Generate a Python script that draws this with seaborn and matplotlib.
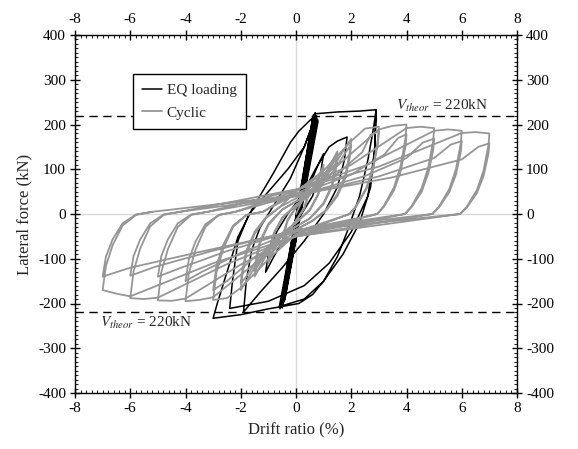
import matplotlib
matplotlib.use("Agg")
import matplotlib.pyplot as plt
import numpy as np
import pandas as pd
import seaborn as sns
from matplotlib.ticker import MultipleLocator

# ---------------- data ----------------
# Cyclic test, small amplitude loops (two cycles each)
cyc_a05_x = [0, 0.3, 0.5, 0.45, 0.3, 0, -0.3, -0.5, -0.45, -0.3, 0, 0.3, 0.5, 0.45, 0.3, 0, -0.3, -0.5, -0.45, -0.3, 0]
cyc_a05_y = [0, 40, 70, 45, 15, -15, -40, -70, -45, -15, 15, 40, 65, 42, 12, -15, -38, -65, -42, -12, 15]

cyc_a1_x = [0.5, 0.8, 1.0, 0.95, 0.8, 0.5, 0, -0.5, -0.8, -1.0, -0.95, -0.8, -0.5, 0,
            0.5, 0.8, 1.0, 0.95, 0.8, 0.5, 0, -0.5, -0.8, -1.0, -0.95, -0.8, -0.5, 0]
cyc_a1_y = [45, 80, 110, 80, 45, 10, -20, -45, -80, -110, -80, -45, -10, 20,
            42, 75, 102, 75, 42, 8, -20, -42, -75, -102, -75, -42, -8, 20]

cyc_a15_x = [0.6, 1.1, 1.5, 1.45, 1.3, 1.0, 0.5, 0, -0.6, -1.1, -1.5, -1.45, -1.3, -1.0, -0.5, 0,
             0.6, 1.1, 1.5, 1.45, 1.3, 1.0, 0.5, 0, -0.6, -1.1, -1.5, -1.45, -1.3, -1.0, -0.5, 0]
cyc_a15_y = [50, 95, 140, 110, 65, 25, -10, -28, -50, -95, -140, -110, -65, -25, 10, 28,
             48, 88, 130, 102, 60, 22, -10, -28, -48, -88, -128, -100, -60, -22, 10, 28]

cyc_a2_x = [0.8, 1.4, 1.8, 2.0, 1.95, 1.8, 1.5, 1.1, 0.6, 0, -0.8, -1.4, -1.8, -2.0, -1.95, -1.8, -1.5, -1.1, -0.6, 0,
            0.8, 1.4, 1.8, 2.0, 1.95, 1.8, 1.5, 1.1, 0.6, 0, -0.8, -1.4, -1.8, -2.0, -1.95, -1.8, -1.5, -1.1, -0.6]
cyc_a2_y = [60, 110, 150, 168, 140, 90, 45, 10, -15, -35, -60, -110, -150, -170, -140, -90, -45, -10, 15, 35,
            55, 100, 138, 155, 128, 82, 40, 8, -15, -35, -58, -102, -140, -155, -128, -82, -40, -8, 15]

# Cyclic test, large amplitude loops (two cycles each)
cyc_a3_x = [0, 1, 2, 2.5, 3, 2.97, 2.79, 2.55, 2.18, 1.94, 0, -1, -2, -2.5, -3, -2.88, -2.64, -2.28, -1.79, -1.19,
            0, 1.5, 2.4, 2.7, 3, 2.97, 2.79, 2.55, 2.18, 1.94, 0, -1.5, -2.5, -3, -2.88, -2.64, -2.28, -1.79, -1.19]
cyc_a3_y = [50, 97, 163, 191, 195, 168, 105, 59, 18, 0, -45, -101, -165, -188, -192, -131, -79, -29, -2, 5,
            45, 90, 138, 177, 185, 159, 100, 56, 17, 0, -40, -97, -150, -170, -116, -70, -26, -2, 5]

cyc_a4_x = [0, 1.5, 3, 3.5, 4, 3.97, 3.79, 3.55, 3.18, 2.94, 0, -1.5, -3, -3.5, -4, -3.88, -3.64, -3.28, -2.79, -2.19,
            0, 2, 3.2, 3.7, 4, 3.97, 3.79, 3.55, 3.18, 2.94, 0, -2, -3.4, -4, -3.88, -3.64, -3.28, -2.79, -2.19]
cyc_a4_y = [52, 108, 189, 197, 200, 172, 108, 60, 18, 0, -47, -111, -186, -192, -195, -133, -80, -29, -2, 5,
            42, 88, 133, 170, 178, 153, 96, 53, 16, 0, -38, -87, -129, -150, -102, -62, -23, -2, 5]

cyc_a5_x = [0, 2, 4, 4.5, 5, 4.97, 4.79, 4.55, 4.18, 3.94, 0, -2, -4, -4.5, -5, -4.88, -4.64, -4.28, -3.79, -3.19,
            0, 2.5, 4, 4.6, 5, 4.97, 4.79, 4.55, 4.18, 3.94, 0, -2.5, -4.2, -5, -4.88, -4.64, -4.28, -3.79, -3.19]
cyc_a5_y = [52, 110, 192, 195, 192, 165, 104, 58, 17, 0, -48, -113, -189, -194, -193, -131, -79, -29, -2, 5,
            40, 85, 125, 160, 168, 144, 91, 50, 15, 0, -36, -83, -121, -140, -95, -57, -21, -1, 5]

cyc_a6_x = [0, 2.5, 5, 5.5, 6, 5.97, 5.79, 5.55, 5.18, 4.94, 0, -2.5, -5, -5.5, -6, -5.88, -5.64, -5.28, -4.79, -4.19,
            0, 3, 5, 5.6, 6, 5.97, 5.79, 5.55, 5.18, 4.94, 0, -3, -5.1, -6, -5.88, -5.64, -5.28, -4.79, -4.19]
cyc_a6_y = [54, 108, 186, 189, 186, 160, 100, 56, 17, 0, -50, -112, -187, -190, -188, -128, -77, -28, -2, 5,
            40, 84, 125, 155, 163, 140, 88, 49, 15, 0, -36, -82, -118, -138, -94, -57, -21, -1, 5]

cyc_a7_x = [0, 3, 6, 6.5, 7, 6.97, 6.79, 6.55, 6.18, 5.94, 0, -3, -6, -6.5, -7, -6.88, -6.64, -6.28, -5.79, -5.19,
            0, 3.5, 6, 6.6, 7, 6.97, 6.79, 6.55, 6.18, 5.94, 0, -3.5, -6, -7, -6.88, -6.64, -6.28, -5.79, -5.19]
cyc_a7_y = [55, 106, 181, 183, 180, 155, 97, 54, 16, 0, -50, -110, -184, -178, -170, -116, -70, -26, -2, 5,
            42, 82, 122, 150, 158, 136, 85, 47, 14, 0, -38, -85, -120, -140, -95, -57, -21, -1, 5]

# Earthquake loading response
eq_x = [0, 0.4, 0.8, 1.0, 0.9, 0.6, 0.2, -0.3, -0.8, -1.1, -1.0, -0.7, -0.3, 0.2, 0.7, 1.2, 1.5, 1.85,
        1.75, 1.5, 1.0, 0.3, -0.5, -1.3, -1.9, -1.8, -1.6, -1.3, -0.8, -0.2, 0.3, 0.6, 0.7,
        -0.52, 0.72, -0.48, 0.68, -0.55, 0.75, -0.45, 0.66, -0.5, 0.7,
        -0.42, 0.78, -0.58, 0.63, -0.4, 0.8, -0.6, 0.7,
        1.5, 2.3, 2.9,
        2.85, 2.7, 2.3, 1.7, 1.0, 0.3, -0.5,
        0.6, 0.1, -0.2, -0.83, -1.55, -2.1, -2.5, -2.85, -3.0,
        -2.0, -1.0, 0.1, 0.6, 1.0, 1.5, 1.85, 2.3, 2.6, 2.8, 2.9,
        2.85, 2.6, 2.0, 1.2, 0.3, -1.0, -2.4, -2.3, -2.1, -1.7, -1.0, -0.3, 0.3, 0.6, 0.7,
        -0.5, -0.3, 0.0]
eq_y = [0, 50, 110, 135, 95, 40, 0, -40, -95, -130, -90, -40, 0, 40, 100, 150, 163, 172,
        120, 60, 0, -60, -120, -175, -219, -150, -80, -30, 20, 80, 150, 200, 222,
        -205, 220, -200, 225, -208, 218, -198, 215, -210, 226,
        -195, 212, -212, 222, -190, 208, -206, 224,
        228, 230, 233,
        150, 60, -20, -90, -150, -190, -205,
        215, 185, 160, 90, 15, -51, -130, -200, -233,
        -225, -212, -200, -180, -150, -95, -40, 40, 120, 190, 232,
        140, 40, -40, -110, -160, -195, -211, -150, -60, 0, 50, 100, 150, 200, 220,
        -205, -120, -60]

# Axis ticks and reference values
x_ticks = [-8, -6, -4, -2, 0, 2, 4, 6, 8]
y_ticks = [-400, -300, -200, -100, 0, 100, 200, 300, 400]
v_theor = 220

cyc_x = (cyc_a05_x + cyc_a1_x + cyc_a15_x + cyc_a2_x + cyc_a3_x +
         cyc_a4_x + cyc_a5_x + cyc_a6_x + cyc_a7_x)
cyc_y = (cyc_a05_y + cyc_a1_y + cyc_a15_y + cyc_a2_y + cyc_a3_y +
         cyc_a4_y + cyc_a5_y + cyc_a6_y + cyc_a7_y)

# ---------------- style ----------------
sns.set_style("ticks")
plt.rcParams["font.family"] = ["Liberation Serif", "DejaVu Serif"]
plt.rcParams["mathtext.fontset"] = "stix"
plt.rcParams["axes.unicode_minus"] = False

fig = plt.figure(figsize=(5.78, 4.49), dpi=100)
ax = fig.add_axes([75 / 578, 1 - 393 / 449, 442 / 578, 358 / 449])

ax.axhline(0, color="#d9d9d9", lw=1.0, zorder=0)
ax.axvline(0, color="#d9d9d9", lw=1.0, zorder=0)

sns.lineplot(x=eq_x, y=eq_y, sort=False, estimator=None, color="black",
             lw=1.1, ax=ax, label="EQ loading")
sns.lineplot(x=cyc_x, y=cyc_y, sort=False, estimator=None, color="#969696",
             lw=1.3, ax=ax, label="Cyclic")

ax.axhline(v_theor, color="black", lw=1.0, ls=(0, (6, 4)))
ax.axhline(-v_theor, color="black", lw=1.0, ls=(0, (6, 4)))

ax.text(6.95, v_theor + 4, r"$V_{theor}$ = 220kN", ha="right", va="bottom", fontsize=11)
ax.text(-7.1, -v_theor - 6, r"$V_{theor}$ = 220kN", ha="left", va="top", fontsize=11)

ax.set_xlim(-8, 8)
ax.set_ylim(-400, 400)
ax.set_xticks(x_ticks)
ax.set_yticks(y_ticks)
ax.xaxis.set_minor_locator(MultipleLocator(0.2))
ax.yaxis.set_minor_locator(MultipleLocator(10))
ax.tick_params(which="major", direction="inout", length=7, width=1.0,
               top=True, right=True, labeltop=True, labelright=True,
               labelsize=11, colors="black", pad=3)
ax.tick_params(which="minor", direction="in", length=2.5, width=0.8,
               top=True, right=True)
for s in ax.spines.values():
    s.set_visible(True)
    s.set_color("black")
    s.set_linewidth(1.0)

ax.set_xlabel("Drift ratio (%)", fontsize=12, labelpad=5)
ax.set_ylabel("Lateral force (kN)", fontsize=12, labelpad=4)

leg = ax.legend(loc="upper left", bbox_to_anchor=(0.131, 0.891), frameon=True,
                fancybox=False, edgecolor="black", fontsize=11, handlelength=1.3,
                handletextpad=0.3, borderpad=0.6, labelspacing=0.6, borderaxespad=0,
                framealpha=1)
leg.get_frame().set_linewidth(1.0)
leg.set_zorder(10)

fig.savefig("out.png", dpi=100)
